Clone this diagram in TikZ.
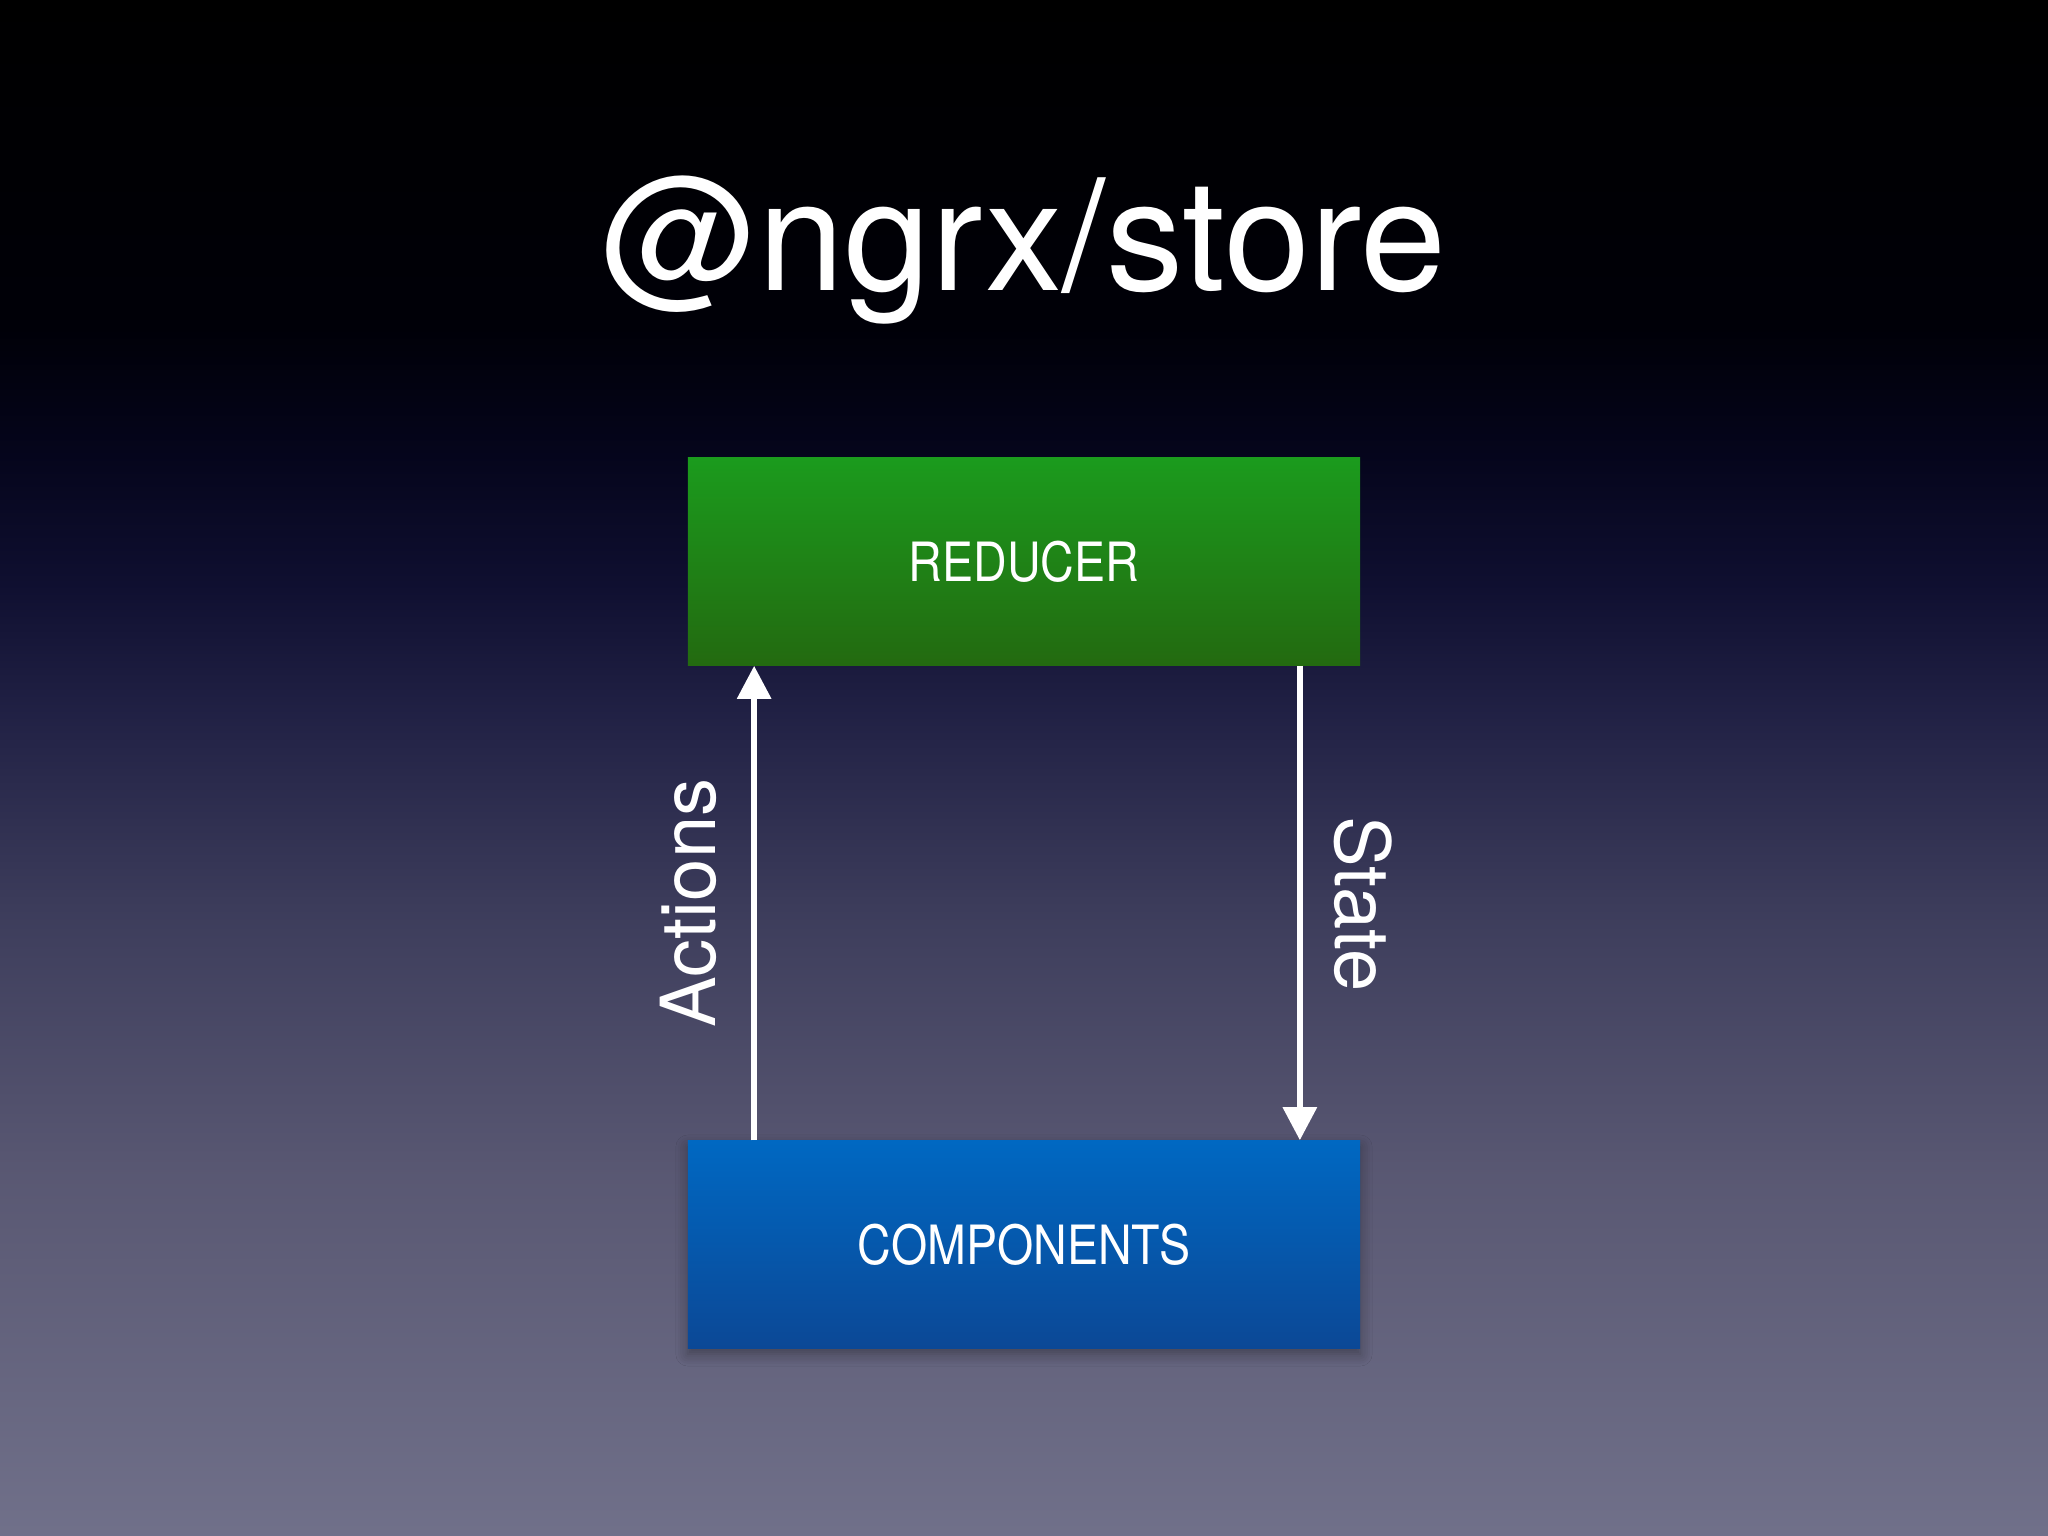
\documentclass[tikz,border=0pt]{standalone}
\usepackage{fontspec}
\setmainfont{TeX Gyre Heros}
\newfontfamily\boxfont[FakeStretch=0.86]{TeX Gyre Heros}
\usetikzlibrary{arrows.meta,shadows.blur}
\pgfdeclareverticalshading{bgshade}{100bp}{%
  rgb(0bp)=(0.44,0.44,0.54);
  rgb(25bp)=(0.44,0.44,0.54);
  rgb(36.72bp)=(0.35,0.345,0.45);
  rgb(45.18bp)=(0.24,0.24,0.36);
  rgb(51.69bp)=(0.13,0.13,0.27);
  rgb(55.92bp)=(0.06,0.06,0.19);
  rgb(60.16bp)=(0.02,0.02,0.11);
  rgb(64.39bp)=(0,0,0.03);
  rgb(75bp)=(0,0,0);
  rgb(100bp)=(0,0,0)}
\definecolor{redtop}{HTML}{1B9B1D}
\definecolor{redbot}{HTML}{236A10}
\definecolor{comptop}{HTML}{0068C2}
\definecolor{compbot}{HTML}{0B4896}
\begin{document}
\begin{tikzpicture}[x=0.01cm,y=-0.01cm,
  box/.style={rectangle, minimum width=6.72cm, minimum height=2.07cm,
    inner sep=0pt, text=white, font=\boxfont\fontsize{15.4}{18}\selectfont},
  flow/.style={white, line width=1.7pt, -{Triangle[width=9.4pt,length=9.4pt]}},
  lbl/.style={text=white, inner sep=0pt, font=\fontsize{21.6}{26}\selectfont}]
\useasboundingbox (0,0) rectangle (2048,1536);
\shade[shading=bgshade] (0,0) rectangle (2048,1536);
\node[text=white, anchor=base, inner sep=0pt, font=\fontsize{44}{52}\selectfont] (title) at (1024,290) {@ngrx/store};
\node[box, top color=redtop, bottom color=redbot] (red) at (1024,561.5) {REDUCER};
\node[box, top color=comptop, bottom color=compbot,
  blur shadow={shadow xshift=0pt, shadow yshift=-0.06cm, shadow blur steps=6, shadow blur radius=0.12cm, shadow opacity=35}] (comp) at (1024,1244.5) {COMPONENTS};
\draw[flow] ([xshift=0.67cm]comp.north west) -- ([xshift=0.67cm]red.south west);
\draw[flow] ([xshift=-0.61cm]red.south east) -- ([xshift=-0.61cm]comp.north east);
\node[lbl, rotate=90] (actions) at (688,903) {Actions};
\node[lbl, rotate=-90] (state) at (1363,904) {State};
\end{tikzpicture}
\end{document}
